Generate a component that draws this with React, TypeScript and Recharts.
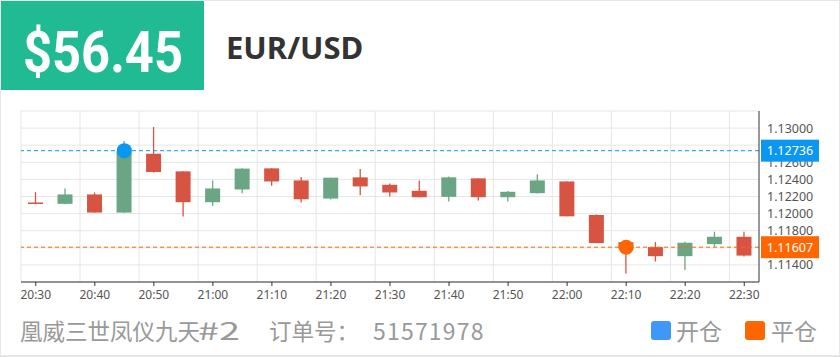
import { ComposedChart, Bar, XAxis, YAxis, CartesianGrid, ReferenceLine, ReferenceDot } from "recharts";

const times = [
  "20:30", "20:35", "20:40", "20:45", "20:50", "20:55", "21:00", "21:05", "21:10", "21:15", "21:20", "21:25", "21:30",
  "21:35", "21:40", "21:45", "21:50", "21:55", "22:00", "22:05", "22:10", "22:15", "22:20", "22:25", "22:30",
];
const opens = [
  1.1213, 1.12114, 1.12224, 1.12012, 1.127, 1.12494, 1.12133, 1.12282, 1.12529, 1.12388, 1.12176, 1.12424, 1.12337,
  1.12267, 1.12196, 1.12412, 1.12192, 1.12239, 1.12376, 1.11984, 1.11665, 1.11608, 1.11502, 1.11643, 1.11729,
];
const closes = [
  1.12124, 1.12224, 1.12012, 1.1273, 1.12486, 1.12133, 1.12294, 1.12526, 1.12376, 1.12168, 1.1242, 1.12318, 1.12247,
  1.12192, 1.12424, 1.12192, 1.12255, 1.12388, 1.11968, 1.11655, 1.1159, 1.11502, 1.11659, 1.11729, 1.11509,
];
const highs = [
  1.12251, 1.12294, 1.12247, 1.1285, 1.13012, 1.12494, 1.12388, 1.1253, 1.12529, 1.12427, 1.1242, 1.12522, 1.12353,
  1.12388, 1.12435, 1.12412, 1.12263, 1.12459, 1.12376, 1.1199, 1.11665, 1.11667, 1.11671, 1.11788, 1.11788,
];
const lows = [
  1.12118, 1.1211, 1.1201, 1.1201, 1.1248, 1.11965, 1.1209, 1.12239, 1.12326, 1.12129, 1.12165, 1.12216, 1.122,
  1.12192, 1.12141, 1.12153, 1.12141, 1.12235, 1.11968, 1.11655, 1.113, 1.11439, 1.11341, 1.11612, 1.11498,
];
const yTicks = [1.112, 1.114, 1.116, 1.118, 1.12, 1.122, 1.124, 1.126, 1.128, 1.13, 1.132];

const openTime = "20:45";
const openPrice = 1.12736;
const closeTime = "22:10";
const closePrice = 1.11607;

const UP = "#6aa584";
const DOWN = "#d75442";
const BLUE = "#0a97f2";
const ORANGE = "#ff6600";
const FONT = "'Noto Sans', 'Noto Sans CJK SC', sans-serif";
const CJK = "'Noto Sans CJK SC', sans-serif";

const data = times.map((time, i) => ({
  time,
  open: opens[i],
  close: closes[i],
  high: highs[i],
  low: lows[i],
}));

function Candle(props: any) {
  const { x, y, width, height, payload } = props;
  const { open, close, high, low } = payload;
  const color = close >= open ? UP : DOWN;
  const top0 = Math.min(y, y + height);
  const h = Math.abs(height);
  const span = high - low || 1;
  const toY = (v: number) => top0 + ((high - v) / span) * h;
  const bodyTop = toY(Math.max(open, close));
  const bodyBottom = toY(Math.min(open, close));
  const cx = x + width / 2;
  return (
    <g>
      <line x1={cx} x2={cx} y1={top0} y2={top0 + h} stroke={color} strokeWidth={1.3} />
      <rect x={x} y={bodyTop} width={width} height={Math.max(bodyBottom - bodyTop, 1.5)} fill={color} />
    </g>
  );
}

// price ticks: plain labels, plus the two order prices drawn as badges on top
function PriceTick(props: any) {
  const { x, y, payload } = props;
  const v = payload.value;
  if (v === openPrice || v === closePrice) {
    const color = v === openPrice ? BLUE : ORANGE;
    return (
      <g>
        <rect x={x - 6} y={y - 11} width={58} height={22} fill={color} />
        <text x={x + 23} y={y + 4.5} textAnchor="middle" fill="#fff" fontSize={12.5} fontFamily={FONT}>
          {v.toFixed(5)}
        </text>
      </g>
    );
  }
  if (v <= 1.1121 || v >= 1.1319) return null;
  return (
    <text x={x} y={y + 4.5} fill="#555" fontSize={12.5} fontFamily={FONT}>
      {v.toFixed(5)}
    </text>
  );
}

export default function App() {
  return (
    <div style={{ position: "absolute", left: 0, top: 0, width: 840, height: 357, background: "#fff" }}>
      <svg width={840} height={357} style={{ position: "absolute", left: 0, top: 0 }}>
        <rect x={0.5} y={0.5} width={839} height={355} fill="none" stroke="#e6e6e6" />
        <line x1={0} x2={840} y1={356} y2={356} stroke="#e6e6e6" strokeWidth={2} />
        <rect x={1} y={1} width={203} height={89} fill="#20bb93" />
        <text x={23} y={72} fill="#fff" fontSize={58} fontWeight="bold" fontFamily="Roboto, sans-serif"
          textLength={160} lengthAdjust="spacingAndGlyphs">
          $56.45
        </text>
        <text x={226} y={59} fill="#333" fontSize={31} fontWeight="bold" fontFamily={FONT}>EUR/USD</text>

        <text y={340} fill="#999" fontSize={22.5} fontFamily={CJK}>
          <tspan x={20}>凰威三世凤仪九天</tspan>
          <tspan x={198} fontSize={24} textLength={42} lengthAdjust="spacingAndGlyphs">#2</tspan>
        </text>
        <text x={269} y={340} fill="#999" fontSize={22.5} fontFamily={CJK}>订单号：</text>
        <text x={373} y={340} fill="#999" fontSize={23} fontFamily={CJK} letterSpacing={1.2}>51571978</text>

        <rect x={651} y={321} width={20} height={19} rx={3} fill="#3f98f8" />
        <text x={676} y={340} fill="#999" fontSize={23} fontFamily={CJK}>开仓</text>
        <rect x={745} y={321} width={20} height={19} rx={3} fill={ORANGE} />
        <text x={771} y={340} fill="#999" fontSize={23} fontFamily={CJK}>平仓</text>
      </svg>

      <div style={{ position: "absolute", left: 0, top: 100 }}>
        <ComposedChart width={840} height={205} data={data} margin={{ top: 11, right: 0, bottom: 0, left: 21 }}>
          <CartesianGrid
            stroke="#e6e6e6"
            horizontalValues={yTicks}
            verticalCoordinatesGenerator={({ offset }: any) =>
              times.filter((_, i) => i % 2 === 0).map((_, k) => offset.left + (k * 2 * offset.width) / times.length)
            }
          />
          <XAxis
            dataKey="time"
            interval={1}
            height={23}
            axisLine={{ stroke: "#333" }}
            tickLine={{ stroke: "#333" }}
            tickSize={4}
            tickMargin={4}
            tick={{ fontSize: 12, fill: "#555", fontFamily: FONT }}
          />
          <YAxis
            orientation="right"
            width={81}
            domain={[1.112, 1.132]}
            ticks={[...yTicks, openPrice, closePrice]}
            interval={0}
            axisLine={{ stroke: "#333" }}
            tickLine={false}
            tickSize={6}
            tickMargin={2}
            tick={PriceTick}
          />
          <Bar dataKey={(d: any) => [d.low, d.high]} barSize={15} shape={Candle} isAnimationActive={false} />
          <ReferenceLine y={openPrice} stroke={BLUE} strokeDasharray="4 3" />
          <ReferenceLine y={closePrice} stroke={ORANGE} strokeDasharray="4 3" />
          <ReferenceDot x={openTime} y={openPrice} r={7.5} fill={BLUE} stroke="none" />
          <ReferenceDot x={closeTime} y={closePrice} r={7.5} fill={ORANGE} stroke="none" />
        </ComposedChart>
      </div>
    </div>
  );
}
